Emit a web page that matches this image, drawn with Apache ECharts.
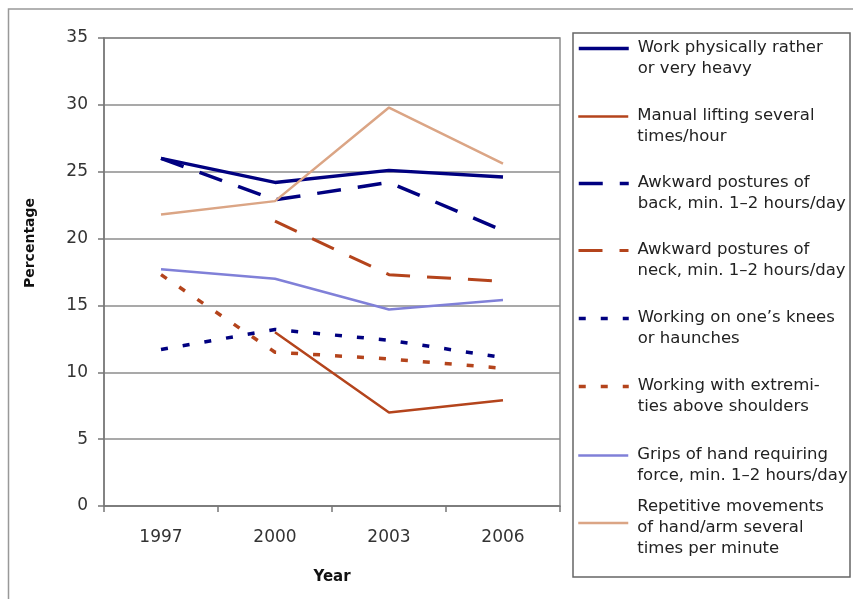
<!DOCTYPE html>
<html>
<head>
<meta charset="utf-8">
<script src="https://cdn.jsdelivr.net/npm/echarts@6/dist/echarts.min.js"></script>
<style>
html,body{margin:0;padding:0;background:#fff;}
#chart{width:853px;height:599px;}
</style>
</head>
<body>
<div id="chart"></div>
<script>
// ---- data ----
const years = ['1997', '2000', '2003', '2006'];
const seriesNames = [
  'Work physically rather\nor very heavy',
  'Manual lifting several\ntimes/hour',
  'Awkward postures of\nback, min. 1\u20132 hours/day',
  'Awkward postures of\nneck, min. 1\u20132 hours/day',
  'Working on one\u2019s knees\nor haunches',
  'Working with extremi-\nties above shoulders',
  'Grips of hand requiring\nforce, min. 1\u20132 hours/day',
  'Repetitive movements\nof hand/arm several\ntimes per minute'
];
const workHeavy      = [26.0, 24.2, 25.1, 24.6];
const manualLifting  = [null, 13.0, 7.0, 7.9];
const postureBack    = [26.0, 22.9, 24.2, 20.6];
const postureNeck    = [null, 21.3, 17.3, 16.8];
const kneesHaunches  = [11.7, 13.2, 12.4, 11.1];
const aboveShoulders = [17.3, 11.5, 11.0, 10.3];
const handGrips      = [17.7, 17.0, 14.7, 15.4];
const repetitive     = [21.8, 22.8, 29.8, 25.6];
const yTicks = [0, 5, 10, 15, 20, 25, 30, 35];

// ---- styles ----
const NAVY = '#000080', BROWN = '#b4441c', LILAC = '#8080d8', TAN = '#dba585';
const LONG_DASH = [24, 17], SHORT_DASH = [7, 15];
const styles = [
  {color: NAVY,  width: 3.5, type: 'solid'},
  {color: BROWN, width: 2.5, type: 'solid'},
  {color: NAVY,  width: 3.5, type: LONG_DASH},
  {color: BROWN, width: 3,   type: LONG_DASH},
  {color: NAVY,  width: 3.5, type: SHORT_DASH},
  {color: BROWN, width: 3.5, type: SHORT_DASH},
  {color: LILAC, width: 2.5, type: 'solid'},
  {color: TAN,   width: 2.5, type: 'solid'}
];
const values = [workHeavy, manualLifting, postureBack, postureNeck, kneesHaunches, aboveShoulders, handGrips, repetitive];

const FONT = 'DejaVu Sans';
const LH = 21;
const iconYs = [48, 116, 183, 250, 318, 386, 455, 523];

const series = seriesNames.map((n, i) => ({
  name: n,
  type: 'line',
  data: values[i],
  symbol: 'none',
  showSymbol: false,
  connectNulls: false,
  color: styles[i].color,
  lineStyle: {color: styles[i].color, width: styles[i].width, type: styles[i].type, cap: 'butt'},
  animation: false
}));

const legends = seriesNames.map((n, i) => {
  const lines = n.split('\n');
  const nl = lines.length;
  const pad = nl === 3 ? 10 : 19;
  const off = nl === 3 ? 32.5 : 21.5;
  return {
    data: [n],
    left: 577,
    top: iconYs[i] - off,
    orient: 'vertical',
    padding: 0,
    itemWidth: 50,
    itemHeight: 14,
    selectedMode: false,
    itemStyle: {opacity: 0},
    lineStyle: {width: styles[i].width, type: styles[i].type, color: styles[i].color, cap: 'butt'},
    formatter: () => '{p|\u00a0}\n' + lines.map(l => '{t|' + l + '}').join('\n'),
    textStyle: {
      fontFamily: FONT, fontSize: 16.5, color: '#222',
      rich: {
        p: {fontSize: 2, lineHeight: pad, padding: [0, 0, 0, 4]},
        t: {fontFamily: FONT, fontSize: 16.5, color: '#222', lineHeight: LH, padding: [0, 0, 0, 4]}
      }
    }
  };
});

const chart = echarts.init(document.getElementById('chart'), null, {renderer: 'canvas'});
chart.setOption({
  animation: false,
  backgroundColor: '#fff',
  grid: {
    left: 104, right: 293, top: 38, bottom: 93,
    show: true, borderColor: '#8c8c8c', borderWidth: 1.5, backgroundColor: 'transparent'
  },
  xAxis: {
    type: 'category',
    data: years,
    boundaryGap: true,
    name: 'Year',
    nameLocation: 'middle',
    nameGap: 64,
    nameTextStyle: {fontFamily: FONT, fontSize: 15, fontWeight: 'bold', color: '#111'},
    axisLine: {show: true, lineStyle: {color: '#777', width: 1.5}},
    axisTick: {show: true, length: 6, lineStyle: {color: '#777', width: 1.5}},
    axisLabel: {fontFamily: FONT, fontSize: 17, color: '#333', margin: 23},
    splitLine: {show: false}
  },
  yAxis: {
    type: 'value',
    min: yTicks[0],
    max: yTicks[yTicks.length - 1],
    interval: yTicks[1] - yTicks[0],
    name: 'Percentage',
    nameLocation: 'middle',
    nameGap: 67,
    nameTextStyle: {fontFamily: FONT, fontSize: 14, fontWeight: 'bold', color: '#111', padding: [0, 0, 0, 58]},
    axisLine: {show: true, lineStyle: {color: '#777', width: 1.5}},
    axisTick: {show: true, length: 6, lineStyle: {color: '#777', width: 1.5}},
    axisLabel: {fontFamily: FONT, fontSize: 17, color: '#333', margin: 16},
    splitLine: {show: true, lineStyle: {color: '#8c8c8c', width: 1.5}}
  },
  legend: legends,
  graphic: [
    {type: 'rect', shape: {x: 8.5, y: 9, width: 860, height: 620}, style: {fill: 'none', stroke: '#999', lineWidth: 1.5}, silent: true, z: -1},
    {type: 'rect', shape: {x: 573, y: 33, width: 277, height: 544}, style: {fill: 'none', stroke: '#666', lineWidth: 1.5}, silent: true}
  ],
  series: series
});
</script>
</body>
</html>
